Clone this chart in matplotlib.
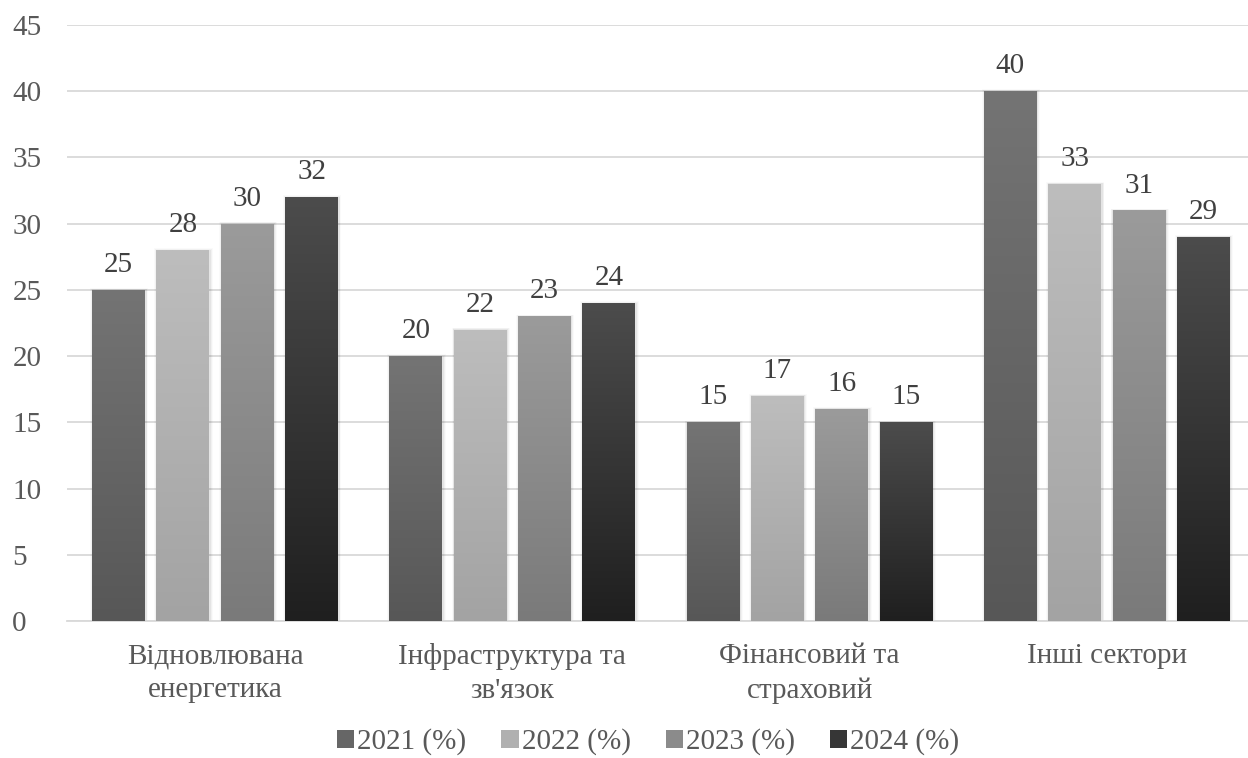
import matplotlib.pyplot as plt
import numpy as np
from matplotlib.colors import LinearSegmentedColormap
from matplotlib.patches import Rectangle

categories = ["Відновлювана\nенергетика", "Інфраструктура та\nзв'язок",
              "Фінансовий та\nстраховий", "Інші сектори"]
series = ["2021 (%)", "2022 (%)", "2023 (%)", "2024 (%)"]
values = [
    [25, 20, 15, 40],
    [28, 22, 17, 33],
    [30, 23, 16, 31],
    [32, 24, 15, 29],
]
# (top, bottom) shades of the vertical gradient
shades = [("#747474", "#575757"), ("#bdbdbd", "#a3a3a3"),
          ("#9b9b9b", "#7a7a7a"), ("#4c4c4c", "#1f1f1f")]

plt.rcParams["font.family"] = ["Liberation Serif", "DejaVu Serif"]
text_color = "#595959"
fs = 21

fig = plt.figure(figsize=(12.48, 7.58), dpi=100)
ax = fig.add_axes([66.5 / 1248, 137 / 758, 1189 / 1248, 596 / 758])

width = 0.178
step = 0.2165
x = np.arange(len(categories))
ymax = 45

for i, (name, vals, (top, bot)) in enumerate(zip(series, values, shades)):
    cmap = LinearSegmentedColormap.from_list(name, [bot, top])
    xs = x + (i - 1.5) * step
    bars = ax.bar(xs, vals, width, color="none", edgecolor="none", zorder=3)
    for bar, v in zip(bars, vals):
        x0 = bar.get_x()
        # faint glow around the bar
        for k, a in enumerate([0.05, 0.035, 0.02]):
            pad = 0.003 * (k + 1)
            ax.add_patch(Rectangle((x0 - pad + 0.002, 0), width + 2 * pad, v + pad * 15,
                                   facecolor="#000000", alpha=a, edgecolor="none", zorder=2))
        grad = np.linspace(0, 1, 256).reshape(-1, 1)
        im = ax.imshow(grad, cmap=cmap, aspect="auto", origin="lower",
                       extent=(x0, x0 + width, 0, v), zorder=3.5)
        im.set_clip_path(bar)
        ax.text(bar.get_x() + width / 2, v + 0.9, str(v), ha="center", va="bottom",
                fontsize=fs, color="#404040", zorder=5)
    ax.bar([np.nan], [0], color=cmap(0.5), label=name)

ax.set_xlim(-0.5, len(categories) - 0.5)
ax.set_ylim(0, ymax)
ax.set_yticks(np.arange(0, ymax + 1, 5))
ax.set_xticks(x)
ax.set_xticklabels(categories, linespacing=1.38)
ax.tick_params(axis="both", length=0, labelsize=fs, colors=text_color)
ax.tick_params(axis="x", pad=16)
ax.tick_params(axis="y", pad=39)
for lbl in ax.get_yticklabels():
    lbl.set_horizontalalignment("left")
ax.grid(axis="y", color="#d9d9d9", linewidth=1.3, zorder=0)
ax.set_axisbelow(True)
for side in ["top", "right", "left"]:
    ax.spines[side].set_visible(False)
ax.spines["bottom"].set_color("#d9d9d9")
ax.spines["bottom"].set_linewidth(1.3)

fig.legend(loc="center", bbox_to_anchor=(648 / 1248, 1 - 742 / 758), ncol=4,
           frameon=False, fontsize=fs, labelcolor=text_color,
           handlelength=0.6, handleheight=0.6, handletextpad=0.1, columnspacing=1.2)

fig.savefig("out.png", dpi=100)
